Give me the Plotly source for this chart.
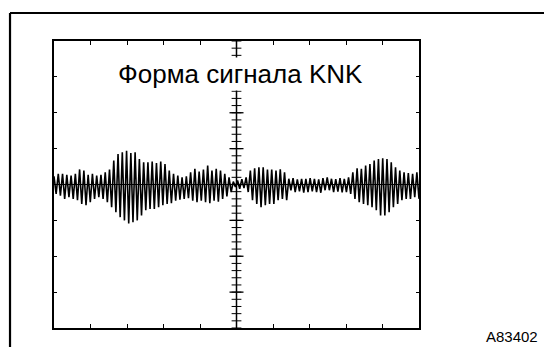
import numpy as np
import plotly.graph_objects as go

# Peak (upper) and trough (lower) values of each oscillation cycle, in screen divisions,
# read from left to right across the 10-division time axis.
peak_highs = [
    0.23, 0.30, 0.30, 0.27, 0.25, 0.30, 0.42, 0.39, 0.27, 0.30, 0.25, 0.27, 0.34, 0.42,
    0.67, 0.85, 0.90, 0.94, 0.88, 0.90, 0.71, 0.62,
    0.62, 0.64, 0.60, 0.64, 0.57, 0.39, 0.30, 0.25, 0.20, 0.23, 0.34, 0.44, 0.36, 0.42,
    0.53, 0.39, 0.44, 0.39, 0.30, 0.20,
    0.08, 0.11, 0.15,
    0.20, 0.39, 0.45, 0.48, 0.48, 0.42, 0.42, 0.39, 0.42, 0.34,
    0.16, 0.18, 0.14, 0.16, 0.16, 0.18, 0.16, 0.14, 0.18, 0.20,
    0.16, 0.15, 0.18, 0.16,
    0.20, 0.34, 0.45, 0.44, 0.53, 0.57, 0.67, 0.71, 0.73, 0.71, 0.62, 0.48, 0.39, 0.34,
    0.32, 0.30, 0.34,
]
trough_lows = [
    -0.26, -0.31, -0.40, -0.35, -0.40, -0.44, -0.54, -0.58, -0.49, -0.40, -0.35, -0.40, -0.49, -0.63,
    -0.77, -0.91, -1.00, -1.09, -1.05, -1.00, -0.86, -0.72,
    -0.68, -0.68, -0.63, -0.58, -0.54, -0.52, -0.45, -0.42, -0.40, -0.38, -0.45, -0.49, -0.45, -0.49,
    -0.52, -0.45, -0.48, -0.40, -0.33, -0.21,
    -0.07, -0.12, -0.10,
    -0.21, -0.44, -0.54, -0.63, -0.58, -0.54, -0.54, -0.44, -0.40, -0.44,
    -0.16, -0.21, -0.19, -0.23, -0.21, -0.19, -0.21, -0.23, -0.16, -0.16,
    -0.21, -0.20, -0.22, -0.21,
    -0.26, -0.40, -0.49, -0.54, -0.58, -0.63, -0.72, -0.86, -0.86, -0.77, -0.63, -0.54, -0.44,
    -0.40, -0.40, -0.35, -0.40,
]

title_text = "Форма сигнала KNK"
figure_code = "A83402"
x_divisions = 10
y_divisions = 8

# Interleave peaks and troughs into one trace sample by sample
wave_y = []
for hi, lo in zip(peak_highs, trough_lows):
    wave_y.append(hi)
    wave_y.append(lo)
n = len(wave_y)
wave_x = np.arange(n) * (x_divisions / (n - 1))

fig = go.Figure()

# centre graticule with fine ticks
minor_y = np.arange(-y_divisions / 2, y_divisions / 2 + 0.001, 0.2)
major_y = np.arange(-y_divisions / 2 + 1, y_divisions / 2, 1.0)
fig.add_trace(go.Scatter(
    x=[x_divisions / 2] * len(minor_y), y=minor_y, mode="markers",
    marker=dict(symbol="line-ew", size=7, line=dict(color="black", width=1)),
    hoverinfo="skip", showlegend=False))
fig.add_trace(go.Scatter(
    x=[x_divisions / 2] * len(major_y), y=major_y, mode="markers",
    marker=dict(symbol="line-ew", size=10, line=dict(color="black", width=1.3)),
    hoverinfo="skip", showlegend=False))

fig.add_trace(go.Scatter(
    x=wave_x, y=wave_y, mode="lines",
    line=dict(color="black", width=1.6),
    hoverinfo="skip", showlegend=False))

fig.add_shape(type="line", xref="x", yref="y", x0=x_divisions / 2, x1=x_divisions / 2,
              y0=-y_divisions / 2, y1=y_divisions / 2, line=dict(color="black", width=1.5), layer="below")
fig.add_shape(type="line", xref="x", yref="y", x0=0, x1=x_divisions,
              y0=0, y1=0, line=dict(color="black", width=1.2), layer="below")

# outer page frame (left and top)
fig.add_shape(type="line", xref="paper", yref="paper", x0=-0.1205, x1=-0.1205,
              y0=-0.08, y1=1.0976, line=dict(color="black", width=2.2))
fig.add_shape(type="line", xref="paper", yref="paper", x0=-0.1205, x1=1.36,
              y0=1.0976, y1=1.0976, line=dict(color="black", width=2.2))

fig.add_annotation(text=title_text, xref="paper", yref="paper", x=0.511, y=0.885,
                   xanchor="center", yanchor="middle",
                   showarrow=False, font=dict(family="Liberation Sans, Arial", size=26, color="black"),
                   bgcolor="white", borderpad=1)
fig.add_annotation(text=figure_code, xref="paper", yref="paper", x=1.2548, y=-0.064,
                   xanchor="center", yanchor="bottom", borderpad=0,
                   showarrow=False, font=dict(family="Liberation Sans, Arial", size=15, color="black"))

fig.update_xaxes(range=[0, x_divisions], tickvals=list(range(1, x_divisions)), showticklabels=False,
                 ticks="inside", ticklen=4, tickwidth=1.2, tickcolor="black",
                 showline=True, linewidth=1.5, linecolor="black", mirror="allticks",
                 showgrid=False, zeroline=False)
fig.update_yaxes(range=[-y_divisions / 2, y_divisions / 2],
                 tickvals=list(range(-y_divisions // 2 + 1, y_divisions // 2)), showticklabels=False,
                 ticks="inside", ticklen=3, tickwidth=1.2, tickcolor="black",
                 showline=True, linewidth=1.5, linecolor="black", mirror="allticks",
                 showgrid=False, zeroline=False)

fig.update_layout(width=544, height=347, margin=dict(l=54, r=125, t=41, b=19),
                  paper_bgcolor="white", plot_bgcolor="white")

fig.write_html("out.html", config={"displayModeBar": False},
               post_script="document.body.style.margin='0';document.body.style.overflow='hidden';")
